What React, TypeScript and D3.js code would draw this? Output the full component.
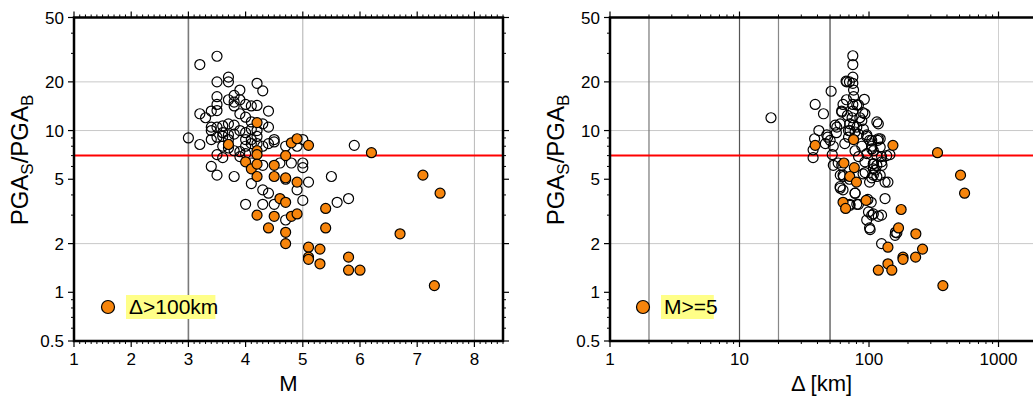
import React from 'react';
import * as d3 from 'd3';

// ratio PGA_S/PGA_B vs magnitude (open: near, orange: distance > 100 km)
const magNear: [number, number][] = [
  [3.0, 9.0], [3.2, 25.6], [3.2, 12.7], [3.2, 8.2], [3.3, 12.0], [3.4, 13.2], [3.4, 10.5], [3.4, 10.0],
  [3.4, 8.8], [3.4, 6.0], [3.5, 28.8], [3.5, 20.0], [3.5, 16.2], [3.5, 14.5], [3.5, 13.3], [3.5, 10.5],
  [3.5, 9.1], [3.5, 7.1], [3.5, 5.3], [3.6, 10.7], [3.6, 9.7], [3.6, 9.2], [3.6, 8.0], [3.6, 6.8],
  [3.7, 21.4], [3.7, 20.0], [3.7, 15.5], [3.7, 11.0], [3.7, 9.4], [3.7, 8.8], [3.7, 7.8], [3.8, 16.5],
  [3.8, 15.0], [3.8, 14.2], [3.8, 10.8], [3.8, 9.5], [3.8, 7.5], [3.8, 5.2], [3.9, 17.8], [3.9, 15.5],
  [3.9, 12.7], [3.9, 10.0], [3.9, 7.4], [3.9, 6.9], [4.0, 14.5], [4.0, 12.1], [4.0, 9.7], [4.0, 8.8],
  [4.0, 8.0], [4.0, 7.2], [4.0, 3.5], [4.1, 14.2], [4.1, 11.3], [4.1, 10.2], [4.1, 8.8], [4.1, 8.3],
  [4.1, 6.3], [4.1, 4.7], [4.2, 19.6], [4.2, 14.3], [4.2, 10.0], [4.2, 9.2], [4.2, 8.3], [4.3, 17.6],
  [4.3, 11.0], [4.3, 8.0], [4.3, 6.1], [4.3, 4.3], [4.3, 3.5], [4.4, 13.2], [4.4, 10.5], [4.4, 8.3],
  [4.4, 4.1], [4.5, 8.8], [4.5, 8.5], [4.5, 3.5], [4.6, 6.3], [4.7, 8.0], [4.7, 5.0], [4.7, 2.8],
  [4.8, 6.3], [4.9, 8.0], [4.9, 4.3], [5.0, 8.8], [5.0, 6.3], [5.0, 5.9], [5.0, 3.7], [5.1, 4.8],
  [5.5, 5.2], [5.6, 3.6], [5.8, 3.8], [5.9, 8.1],
];
const magFar: [number, number][] = [
  [3.7, 8.2], [4.0, 6.4], [4.1, 5.8], [4.2, 11.2], [4.2, 7.5], [4.2, 7.1], [4.2, 6.2], [4.2, 5.2],
  [4.2, 3.0], [4.4, 2.5], [4.5, 6.1], [4.5, 5.2], [4.5, 2.95], [4.6, 3.8], [4.7, 7.0], [4.7, 5.1],
  [4.7, 3.6], [4.7, 2.35], [4.7, 2.0], [4.8, 8.4], [4.8, 2.95], [4.9, 8.9], [4.9, 4.8], [4.9, 3.05],
  [5.1, 8.1], [5.1, 1.9], [5.1, 1.65], [5.1, 1.6], [5.3, 1.85], [5.3, 1.5], [5.4, 3.3], [5.4, 2.5],
  [5.8, 1.65], [5.8, 1.37], [6.0, 1.37], [6.2, 7.3], [6.7, 2.3], [7.1, 5.3], [7.3, 1.1], [7.4, 4.1],
];

// ratio vs epicentral distance (open: M < 5, orange: M >= 5)
const distSmall: [number, number][] = [
  [17.5, 12], [38.4, 14.5], [51, 17.5], [44.5, 12.7], [41, 10], [38, 8.9], [37, 7.6], [37, 6.8],
  [46, 8.3], [48, 9.1], [54.8, 10.8], [56, 9.7], [53, 8.0], [53, 6.1], [57.8, 6.3], [60, 5.3],
  [60, 4.4], [63, 4.3], [63, 5.3], [61.5, 13.2], [63, 14.5], [67, 15.5], [66.5, 20.2], [70.6, 20],
  [75, 29], [75, 25.6], [75, 21.4], [75, 19.6], [76, 17.8], [76, 16.2], [75, 14.5], [75, 13.2],
  [74, 12], [71, 11], [76, 10.8], [69.5, 10], [78, 9.8], [69.5, 9.1], [83, 9.5], [90.5, 10.2],
  [88, 11.5], [93, 12.7], [92, 15.6], [85, 12], [96, 9.2], [101, 8.7], [88, 8.0], [105, 8.0],
  [117, 8.7], [122, 8.9], [118, 11], [108, 7.5], [83, 6.9], [93, 6.4], [78, 7.5], [125, 6.9],
  [145, 7.1], [108, 6.2], [115, 6.1], [125, 6.4], [108, 5.8], [90, 5.4], [108, 5.3], [122, 5.3],
  [105, 5.1], [140, 4.8], [78, 4.1], [83, 3.5], [71, 3.5], [98, 3.75], [104, 3.6], [133, 3.8],
  [108, 3.05], [118, 2.95], [125, 3.0], [96, 2.8], [101, 2.5], [125, 2.0], [160, 2.35], [70.6, 5.0],
  [52, 7.1], [101, 4.8], [65, 8.3], [67.3, 20.0], [80.5, 14.4], [61.6, 13.0], [68.1, 12.4], [82.9, 14.4],
  [89.6, 12.9], [115, 11.3], [59.8, 11.0], [56.4, 10.5], [47.2, 9.4], [50.1, 8.7], [71.4, 10.0], [80.5, 10.5],
  [96.2, 9.4], [105, 8.7], [118, 8.9], [122, 7.9], [105, 7.7], [96.2, 7.2], [115, 7.0], [137, 7.0],
  [126, 6.1], [108, 6.25], [112, 5.7], [93.4, 5.5], [115, 5.2], [133, 4.8], [61.6, 6.1], [63.5, 5.2],
  [59.8, 4.5], [78.1, 4.1], [80.5, 3.5], [71.4, 3.45], [99.1, 3.14], [105, 3.0], [102, 2.44], [164, 2.33],
  [159, 2.25],
];
const distLarge: [number, number][] = [
  [38.4, 8.1], [76, 8.8], [64, 6.3], [77, 5.9], [71, 5.2], [80, 4.8], [63, 3.6], [66, 3.3],
  [95, 3.7], [153, 8.1], [338, 7.3], [509, 5.3], [547, 4.1], [177, 3.25], [169, 2.5], [230, 2.3],
  [140, 1.9], [259, 1.85], [183, 1.65], [183, 1.6], [229, 1.65], [118, 1.37], [140, 1.5], [150, 1.37],
  [372, 1.1],
];

const ratioTicks = [0.5, 1, 2, 5, 10, 20, 50];
const ratioMinor = [0.6, 0.7, 0.8, 0.9, 3, 4, 6, 7, 8, 9, 30, 40];
const ratioGrid = [2, 10, 20];
const magTicks = [1, 2, 3, 4, 5, 6, 7, 8];
const distTicks = [1, 10, 100, 1000];
const distMinor = [2, 3, 4, 5, 6, 7, 8, 9, 20, 30, 40, 50, 60, 70, 80, 90, 200, 300, 400, 500, 600, 700, 800, 900];
const threshold = 7;

const top = 17.5, bottom = 341;
const orange = '#f7850c';
const font = 'Liberation Sans, Arial, Helvetica, sans-serif';

type Grid = { v: number; color: string; w: number };

function Panel({ x, xTicks, xMinor, grid, near, far, legend, xTitle, yTitleX, legendX }: {
  x: any; xTicks: number[]; xMinor: number[]; grid: Grid[];
  near: [number, number][]; far: [number, number][];
  legend: string; xTitle: string; yTitleX: number; legendX: number;
}) {
  const y = d3.scaleLog().domain([0.5, 50]).range([bottom, top]);
  const [x0, x1] = x.range();
  const cx = (x0 + Math.min(x1, 1033)) / 2;
  return (
    <g fontFamily={font}>
      {ratioGrid.map(v => (
        <line key={'h' + v} x1={x0} x2={x1} y1={y(v)} y2={y(v)} stroke="#c8c8c8" strokeWidth={1} />
      ))}
      {grid.map(g => (
        <line key={'v' + g.v} x1={x(g.v)} x2={x(g.v)} y1={top} y2={bottom} stroke={g.color} strokeWidth={g.w} />
      ))}
      <line x1={x0} x2={x1} y1={y(threshold)} y2={y(threshold)} stroke="#ff0000" strokeWidth={2} />

      {near.map((d, i) => (
        <circle key={'n' + i} cx={x(d[0])} cy={y(d[1])} r={5} fill="none" stroke="#000" strokeWidth={1.2} />
      ))}
      {far.map((d, i) => (
        <circle key={'f' + i} cx={x(d[0])} cy={y(d[1])} r={5} fill={orange} stroke="#000" strokeWidth={1.2} />
      ))}

      {/* frame ticks */}
      {xMinor.map(v => (
        <g key={'xm' + v}>
          <line x1={x(v)} x2={x(v)} y1={bottom} y2={bottom + 3} stroke="#000" />
          <line x1={x(v)} x2={x(v)} y1={top} y2={top - 3} stroke="#000" />
        </g>
      ))}
      {xTicks.map(v => (
        <g key={'xt' + v}>
          <line x1={x(v)} x2={x(v)} y1={bottom} y2={bottom + 6} stroke="#000" strokeWidth={1.2} />
          <line x1={x(v)} x2={x(v)} y1={top} y2={top - 6} stroke="#000" strokeWidth={1.2} />
          <text x={x(v)} y={bottom + 24} textAnchor="middle" fontSize={17}>{v}</text>
        </g>
      ))}
      {ratioMinor.map(v => (
        <g key={'ym' + v}>
          <line x1={x0} x2={x0 - 3} y1={y(v)} y2={y(v)} stroke="#000" />
          <line x1={x1} x2={x1 + 3} y1={y(v)} y2={y(v)} stroke="#000" />
        </g>
      ))}
      {ratioTicks.map(v => (
        <g key={'yt' + v}>
          <line x1={x0} x2={x0 - 6} y1={y(v)} y2={y(v)} stroke="#000" strokeWidth={1.2} />
          <line x1={x1} x2={x1 + 6} y1={y(v)} y2={y(v)} stroke="#000" strokeWidth={1.2} />
          <text x={x0 - 10} y={y(v)} dy="0.36em" textAnchor="end" fontSize={17}>{v}</text>
        </g>
      ))}
      <rect x={x0} y={top} width={x1 - x0} height={bottom - top} fill="none" stroke="#000" strokeWidth={2.5} />

      {/* legend */}
      <circle cx={legendX} cy={307} r={6.5} fill={orange} stroke="#000" strokeWidth={1.2} />
      <Legend x={legendX + 18} text={legend} />

      <text x={cx} y={391} textAnchor="middle" fontSize={22}>{xTitle}</text>
      <text transform={`translate(${yTitleX},160) rotate(-90)`} textAnchor="middle" fontSize={24}>
        PGA<tspan fontSize={17} dy={5}>S</tspan><tspan dy={-5}>/PGA</tspan><tspan fontSize={17} dy={5}>B</tspan>
      </text>
    </g>
  );
}

function Legend({ x, text }: { x: number; text: string }) {
  const w = text.length * 12.2 + 4;
  return (
    <g>
      <rect x={x} y={295} width={w} height={24} fill="#ffff88" />
      <text x={x + 3} y={314} fontSize={21}>{text}</text>
    </g>
  );
}

export default function App() {
  const xMag = d3.scaleLinear().domain([1, 8.5]).range([74, 503]);
  const xDist = d3.scaleLog().domain([1, 2000]).range([610, 1037.5]);
  const magMinor = d3.range(10, 86).map(k => k / 10).filter(v => !Number.isInteger(v));
  return (
    <svg width={1033} height={398} style={{ position: 'absolute', left: 0, top: 0, background: '#fff' }}>
      <Panel
        x={xMag} xTicks={magTicks} xMinor={magMinor}
        grid={[{ v: 3, color: '#7a7a7a', w: 1.6 }, { v: 5, color: '#b0b0b0', w: 1 }, { v: 8, color: '#b8b8b8', w: 1 }]}
        near={magNear} far={magFar} legend="Δ>100km" xTitle="M" yTitleX={28} legendX={108}
      />
      <Panel
        x={xDist} xTicks={distTicks} xMinor={distMinor}
        grid={[
          { v: 2, color: '#777', w: 1.2 }, { v: 10, color: '#555', w: 1.2 }, { v: 20, color: '#888', w: 1.2 },
          { v: 50, color: '#444', w: 1.2 }, { v: 1000, color: '#cfcfcf', w: 1 },
        ]}
        near={distSmall} far={distLarge} legend="M>=5" xTitle="Δ [km]" yTitleX={564} legendX={643}
      />
    </svg>
  );
}
